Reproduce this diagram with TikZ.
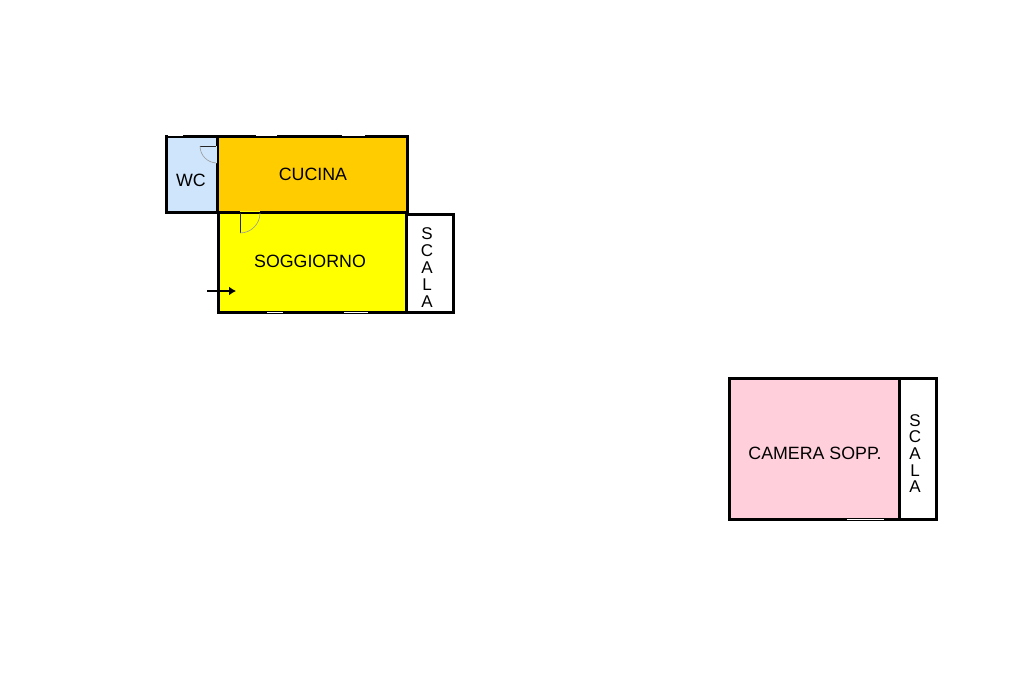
\documentclass[tikz,border=0pt]{standalone}
\usepackage{fontspec}
\setmainfont{Liberation Sans}
\usetikzlibrary{positioning}
\usetikzlibrary{arrows.meta}
\definecolor{wcblue}{HTML}{CFE5FB}
\definecolor{cucinaorange}{HTML}{FFCC00}
\definecolor{soggiornoyellow}{HTML}{FFFF00}
\definecolor{camerapink}{HTML}{FFD0DC}
\tikzset{wall/.style={line width=3pt,draw=black,line join=miter},
label/.style={inner sep=0pt,font=\fontsize{17.8}{20}\selectfont,text=black},
letter/.style={inner sep=0pt,font=\fontsize{17}{20}\selectfont,text=black},
window/.style={line width=1pt,draw=white},
swing/.style={line width=0.6pt,draw=black!40},
leaf/.style={line width=0.8pt,draw=black!85}}
\begin{document}
\begin{tikzpicture}[x=1pt,y=-1pt]
\useasboundingbox (0,0) rectangle (1024,682);
\fill[white] (0,0) rectangle (1024,682);
\draw[wall,fill=wcblue] (166.5,136.5) rectangle (217.5,212.5);
\draw[wall,fill=cucinaorange] (217.5,136.5) rectangle (407.5,212.5);
\draw[wall,fill=white] (406.3,214.5) rectangle (453.7,312);
\draw[wall,fill=soggiornoyellow] (218.8,212.5) rectangle (406.3,312);
\draw[wall,fill=camerapink] (729.7,378.7) rectangle (899.7,519.5);
\draw[wall,fill=white] (899.7,378.7) rectangle (936.3,519.5);
\foreach \xa/\xb/\ya in {168/183/135.8, 256/277/135.8, 342/365/135.8, 267/283/312, 344/368/312, 847/884/519.4} {
\draw[window] (\xa,\ya) -- (\xb,\ya);
}
\draw[leaf] (200,146) -- (216,146);
\draw[swing] (200,146) arc[start angle=180,end angle=90,radius=17];
\draw[line width=1pt,draw=wcblue] (216.3,146) -- (216.3,163);
\draw[line width=1pt,draw=soggiornoyellow] (240,211.5) -- (260,211.5);
\draw[leaf] (240,213) -- (240,233);
\draw[swing] (240,233) arc[start angle=90,end angle=0,radius=20];
\node (wc) at (191,180) [label] {WC};
\node (cucina) at (313,174) [label] {CUCINA};
\node (soggiorno) at (310,261) [label] {SOGGIORNO};
\node (camera) at (815,453) [label] {CAMERA SOPP.};
\foreach \l [count=\i] in {S,C,A,L,A} {
\node (p\i) at (427,{217+17*\i}) [letter] {\l};
\node (q\i) at (915,{403.5+16.7*\i}) [letter] {\l};
}
\coordinate (door) at (207,291);
\coordinate (inside) at (236,291);
\draw[-{Latex[length=7pt,width=9pt]},line width=1.6pt] (door) -- (inside);
\end{tikzpicture}
\end{document}
